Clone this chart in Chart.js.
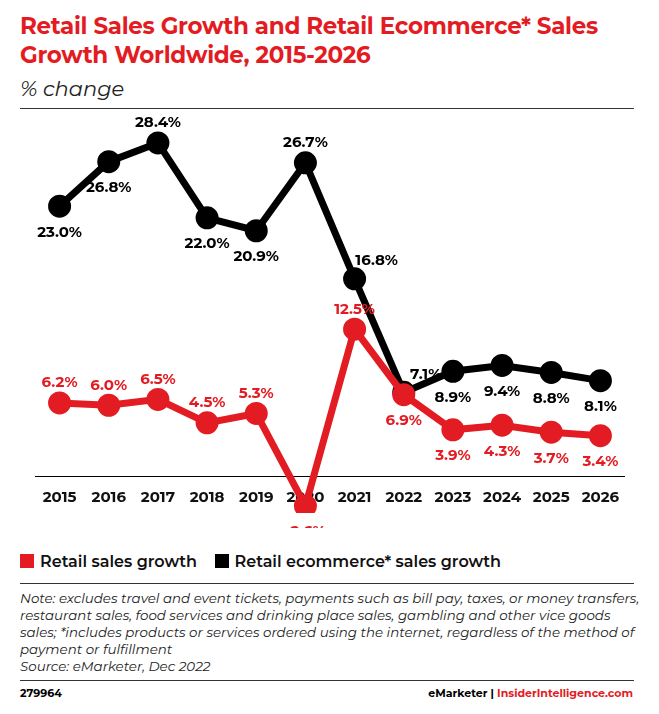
<!DOCTYPE html>
<html><head><meta charset="utf-8">
<script src="https://cdn.jsdelivr.net/npm/chart.js@4"></script>
<style>
body{margin:0;width:659px;height:714px;background:#fff;font-family:"Montserrat","Lato","Open Sans",sans-serif;position:relative;overflow:hidden}
.t{position:absolute;left:20px;top:12px;color:#e31c23;font-weight:bold;font-size:23px;line-height:29px;width:620px;letter-spacing:-0.3px}
.s{position:absolute;left:20px;top:76px;font-style:italic;font-size:21px;color:#222}
.hr{position:absolute;left:20px;width:614px;border-top:1px solid #333}
#wrap{position:absolute;left:20px;top:108px;width:620px;height:420px}
.leg{position:absolute;top:552px;left:20px;font-size:16px;color:#111;font-weight:600}
.leg span.b{display:inline-block;width:14px;height:14px;vertical-align:-1px;margin-right:6px}
.note{position:absolute;left:20px;top:590px;width:620px;font-style:italic;font-size:13.4px;line-height:17px;color:#222}
.f1{position:absolute;left:20px;top:686px;font-size:11px;font-weight:bold}
.f2{position:absolute;right:26px;top:686px;font-size:11px;font-weight:bold}
</style></head><body>
<div class="t">Retail Sales Growth and Retail Ecommerce* Sales Growth Worldwide, 2015-2026</div>
<div class="s">% change</div>
<div class="hr" style="top:108px"></div>
<div id="wrap"><canvas id="c"></canvas></div>
<div class="leg"><span class="b" style="background:#e31c23"></span>Retail sales growth &nbsp;&nbsp;&nbsp;<span class="b" style="background:#000"></span>Retail ecommerce* sales growth</div>
<div class="hr" style="top:583px"></div>
<div class="note">Note: excludes travel and event tickets, payments such as bill pay, taxes, or money transfers, restaurant sales, food services and drinking place sales, gambling and other vice goods sales; *includes products or services ordered using the internet, regardless of the method of payment or fulfillment<br>Source: eMarketer, Dec 2022</div>
<div class="hr" style="top:680px"></div>
<div class="f1">279964</div>
<div class="f2">eMarketer | <span style="color:#e31c23">InsiderIntelligence.com</span></div>
<script>
const years=['2015','2016','2017','2018','2019','2020','2021','2022','2023','2024','2025','2026'];
const retail=[6.2,6.0,6.5,4.5,5.3,-2.6,12.5,6.9,3.9,4.3,3.7,3.4];
const ecom=[23.0,26.8,28.4,22.0,20.9,26.7,16.8,7.1,8.9,9.4,8.8,8.1];
const retailPos=['a','a','a','a','a','b','a','b','b','b','b','b'];
const ecomPos=['b','b','a','b','b','a','ar','ar','b','b','b','b'];
const FONT='"Montserrat","Lato",sans-serif';
const under={id:'under',beforeDatasetsDraw(ch){
 const ctx=ch.ctx,y0=ch.scales.y.getPixelForValue(0),xs=ch.scales.x;
 ctx.save();ctx.strokeStyle='#000';ctx.lineWidth=1;ctx.beginPath();
 ctx.moveTo(ch.chartArea.left,Math.round(y0)+0.5);ctx.lineTo(ch.chartArea.right,Math.round(y0)+0.5);ctx.stroke();
 ctx.fillStyle='#111';ctx.font='bold 15px '+FONT;ctx.textAlign='center';ctx.textBaseline='middle';
 years.forEach((yr,i)=>ctx.fillText(yr,xs.getPixelForValue(i),y0+22));
 ctx.restore();}};
const labels={id:'lbl',afterDatasetsDraw(ch){
 const ctx=ch.ctx;ctx.save();ctx.font='bold 15px '+FONT;ctx.textAlign='center';
 ch.data.datasets.forEach((ds,i)=>{const m=ch.getDatasetMeta(i);const pos=i==0?retailPos:ecomPos;
  ctx.fillStyle=ds.borderColor;
  m.data.forEach((p,j)=>{let x=p.x,y=p.y;const q=pos[j];
   if(q=='a')y-=20;else if(q=='b')y+=26;else {x+=22;y-=18;}
   ctx.textBaseline='middle';ctx.fillText(ds.data[j].toFixed(1)+'%',x,y);});});
 ctx.restore();}};
new Chart(document.getElementById('c'),{type:'line',
 data:{labels:years,datasets:[
  {data:retail,borderColor:'#e31c23',backgroundColor:'#e31c23',borderWidth:7,pointRadius:8,pointHoverRadius:8,tension:0},
  {data:ecom,borderColor:'#000',backgroundColor:'#000',borderWidth:7,pointRadius:8,pointHoverRadius:8,tension:0}]},
 options:{responsive:true,maintainAspectRatio:false,animation:false,
  layout:{padding:{left:0,right:0,top:0,bottom:0}},
  plugins:{legend:{display:false},tooltip:{enabled:false}},
  scales:{y:{min:-3.2,max:30.1,display:false},
   x:{offset:true,display:false}}},
 plugins:[under,labels]});
</script></body></html>
